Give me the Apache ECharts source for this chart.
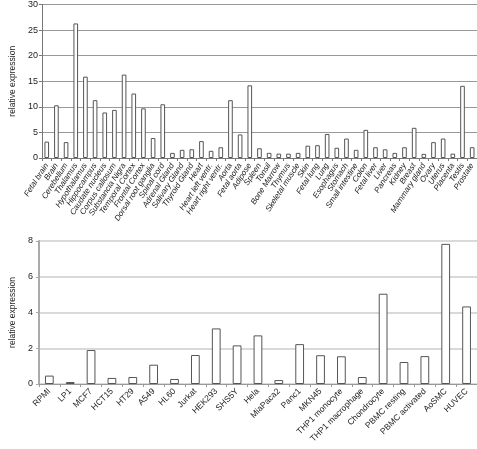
<!DOCTYPE html>
<html><head><meta charset="utf-8">
<script src="https://cdn.jsdelivr.net/npm/echarts@6/dist/echarts.min.js"></script>
<style>html,body{margin:0;padding:0;background:#fff}#c{width:477px;height:449px}</style>
</head><body><div id="c"></div>
<script>
const tissues = ["Fetal brain","Brain","Cerebellum","Thalamus","Hypothalamus","Hippocampus","Caudate nucleus","Corpus callosum","Substancia Nigra","Temporal Cortex","Frontal Cortex","Dorsal root ganglia","Spinal cord","Adrenal Gland","Salivary Gland","Thyroid Gland","Heart","Heart left ventr.","Heart right ventr.","Aorta","Fetal aorta","Adipose","Spleen","Tonsil","Bone Marrow","Thymus","Skeletal muscle","Skin","Fetal lung","Lung","Esophagus","Stomach","Small intestine","Colon","Fetal liver","Liver","Pancreas","Kidney","Breast","Mammary gland","Ovary","Uterus","Placenta","Testis","Prostate"];
const tissueValues = [3.2,10.3,3.1,26.3,15.9,11.3,8.9,9.4,16.3,12.6,9.7,3.9,10.5,1.0,1.6,1.7,3.3,1.4,2.1,11.3,4.6,14.2,1.9,1.0,0.85,0.85,1.0,2.4,2.5,4.7,2.0,3.8,1.6,5.5,2.1,1.7,1.0,2.1,5.9,0.8,3.1,3.8,0.85,14.1,2.1];
const cellLines = ["RPMI","LP1","MCF7","HCT15","HT29","A549","HL60","Jurkat","HEK293","SHS5Y","Hela","MiaPaca2","Panc1","MKN45","THP1 monocyte","THP1 macrophage","Chondrocyte","PBMC resting","PBMC activated","AoSMC","HUVEC"];
const cellValues = [0.47,0.11,1.9,0.34,0.39,1.08,0.28,1.62,3.11,2.16,2.72,0.22,2.23,1.61,1.55,0.39,5.05,1.23,1.56,7.84,4.34];
const topTicks = [0,5,10,15,20,25,30];
const bottomTicks = [0,2,4,6,8];
const yTitle = "relative expression";

const font = "Liberation Sans";
const chart = echarts.init(document.getElementById('c'));
chart.setOption({
  animation:false,
  grid:[
    {left:27,right:0,top:3,height:155,containLabel:false},
    {left:27,right:0,top:241,height:143,containLabel:false}
  ],
  xAxis:[
    {gridIndex:0,type:'category',data:tissues,
     axisLine:{lineStyle:{color:'#777',width:1}},
     axisTick:{show:true,length:3,lineStyle:{color:'#777'}},
     axisLabel:{interval:0,rotate:57,fontSize:8,fontStyle:'italic',fontFamily:font,color:'#222',margin:6}},
    {gridIndex:1,type:'category',data:cellLines,
     axisLine:{lineStyle:{color:'#999',width:1}},
     axisTick:{show:true,length:3,lineStyle:{color:'#999'}},
     axisLabel:{interval:0,rotate:45,fontSize:8.5,fontFamily:font,color:'#222',margin:6}}
  ],
  yAxis:[
    {gridIndex:0,type:'value',min:topTicks[0],max:topTicks[topTicks.length-1],interval:5,
     name:yTitle,nameLocation:'middle',nameGap:16,nameTextStyle:{fontSize:8.5,fontFamily:font,color:'#222'},
     axisLine:{show:true,lineStyle:{color:'#777'}},
     axisTick:{show:true,length:3,lineStyle:{color:'#777'}},
     axisLabel:{fontSize:9,fontFamily:font,color:'#222',margin:4},
     splitLine:{lineStyle:{color:'#999',width:1}}},
    {gridIndex:1,type:'value',min:bottomTicks[0],max:bottomTicks[bottomTicks.length-1],interval:2,
     name:yTitle,nameLocation:'middle',nameGap:16,nameTextStyle:{fontSize:8.5,fontFamily:font,color:'#222'},
     axisLine:{show:true,lineStyle:{color:'#aaa',width:2}},
     axisTick:{show:true,length:3,lineStyle:{color:'#aaa'}},
     axisLabel:{fontSize:9,fontFamily:font,color:'#222',margin:6},
     splitLine:{lineStyle:{color:'#ccc',width:1.5}}}
  ],
  series:[
    {type:'bar',xAxisIndex:0,yAxisIndex:0,data:tissueValues,barWidth:'48%',
     itemStyle:{color:'#fff',borderColor:'#555',borderWidth:1}},
    {type:'bar',xAxisIndex:1,yAxisIndex:1,data:cellValues,barWidth:'42%',
     itemStyle:{color:'#fff',borderColor:'#555',borderWidth:1}}
  ]
});
</script></body></html>
